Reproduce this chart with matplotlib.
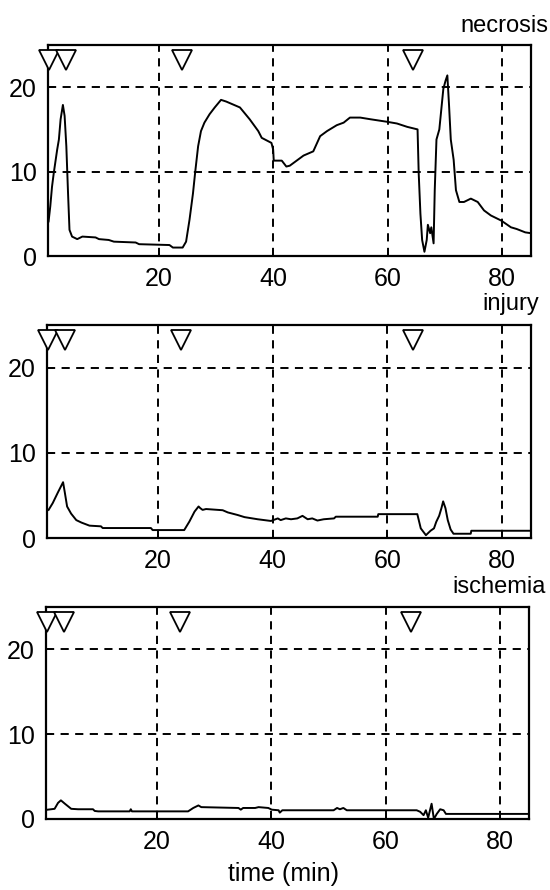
import matplotlib
matplotlib.use("Agg")
import matplotlib.pyplot as plt

plt.rcParams['font.family'] = ['Liberation Sans', 'DejaVu Sans']

# time (min) / value pairs
necrosis_t = [0.8, 1.1, 1.4, 1.7, 2.3, 2.6, 2.9, 3.3, 3.6, 3.9, 4.2, 4.45, 4.9, 5.8, 6.7,
              9.0, 9.6, 11.3, 12.2, 16.0, 16.6, 21.9, 22.5, 24.2, 24.8, 25.4, 26.0, 26.4,
              26.9, 27.4, 28.0, 28.9, 29.8, 30.9, 31.8, 34.2, 35.9, 37.4, 38.0, 39.7, 40.0,
              40.1, 41.5, 42.3, 42.9, 44.1, 45.3, 47.0, 48.2, 49.4, 51.1, 52.3, 53.4, 55.2,
              57.0, 59.9, 61.6, 63.4, 65.2, 65.4, 65.7, 66.0, 66.4, 66.8, 67.0, 67.4, 67.6,
              68.0, 68.2, 68.5, 69.0, 69.35, 69.7, 70.1, 70.4, 70.7, 71.0, 71.5, 71.9, 72.5,
              73.3, 74.5, 75.7, 76.8, 78.0, 79.8, 81.5, 82.5, 84.0, 85.0]
necrosis_v = [4.1, 5.9, 8.2, 9.8, 12.6, 13.8, 16.2, 17.9, 16.6, 13.0, 7.4, 3.1, 2.3, 2.0, 2.3,
              2.2, 2.0, 1.9, 1.7, 1.6, 1.4, 1.3, 1.0, 1.0, 1.7, 4.3, 7.4, 10.0,
              13.0, 14.8, 15.8, 16.8, 17.6, 18.5, 18.3, 17.6, 16.2, 14.8, 14.0, 13.4, 12.6,
              11.3, 11.3, 10.6, 10.7, 11.3, 11.9, 12.4, 14.2, 14.8, 15.5, 15.8, 16.4, 16.4,
              16.2, 15.9, 15.7, 15.3, 15.0, 9.8, 5.0, 1.9, 0.5, 1.9, 3.7, 2.7, 3.4,
              1.5, 7.8, 13.8, 15.0, 17.4, 19.8, 20.8, 21.4, 17.8, 13.8, 11.4, 7.8, 6.4,
              6.4, 6.8, 6.4, 5.4, 4.8, 4.2, 3.4, 3.2, 2.8, 2.7]

injury_t = [0.98, 1.7, 2.6, 3.2, 3.5, 3.8, 4.2, 4.9, 5.8, 6.7, 8.1, 10.1, 10.4, 18.8, 19.1,
            24.6, 25.5, 26.4, 27.1, 27.4, 27.8, 28.4, 31.3, 32.2, 33.9, 35.1, 37.4, 39.7,
            40.9, 41.4, 42.3, 43.2, 44.3, 45.2, 46.1, 46.9, 47.8, 48.9, 50.7, 51.0, 58.3,
            58.4, 65.2, 65.8, 66.7, 67.5, 68.1, 68.5, 69.0, 69.4, 69.7, 70.1, 70.5, 71.0,
            71.5, 74.5, 74.6, 81.4, 85.0]
injury_v = [3.3, 4.1, 5.35, 6.15, 6.55, 5.35, 3.7, 2.86, 2.1, 1.81, 1.45, 1.37, 1.17, 1.17, 0.93,
            0.93, 1.93, 3.1, 3.7, 3.5, 3.3, 3.4, 3.26, 3.0, 2.7, 2.45, 2.2, 2.0,
            2.3, 2.1, 2.3, 2.2, 2.3, 2.6, 2.2, 2.3, 2.05, 2.2, 2.3, 2.5, 2.5,
            2.8, 2.8, 1.13, 0.33, 0.85, 1.13, 1.9, 2.6, 3.5, 4.3, 3.5, 2.1, 1.0,
            0.5, 0.5, 0.85, 0.85, 0.85]

ischemia_t = [1.0, 2.2, 2.8, 3.3, 4.0, 5.1, 6.3, 8.9, 9.2, 9.8, 15.3, 15.5, 15.7, 25.5, 26.4,
              27.3, 27.8, 34.3, 34.7, 35.1, 37.2, 37.8, 39.5, 40.1, 41.3, 41.5, 41.95, 50.9,
              51.5, 52.0, 52.6, 53.2, 65.4, 66.0, 66.6, 67.0, 67.4, 68.0, 68.4, 68.9, 69.5,
              70.1, 70.5, 71.0, 82.0, 85.0]
ischemia_v = [1.1, 1.2, 1.9, 2.2, 1.8, 1.2, 1.15, 1.15, 0.95, 0.9, 0.9, 1.15, 0.9, 0.9, 1.3,
              1.6, 1.4, 1.3, 1.1, 1.3, 1.3, 1.4, 1.3, 1.1, 1.03, 0.75, 1.03, 1.03,
              1.3, 1.15, 1.3, 1.03, 1.03, 0.85, 0.45, 1.03, 0.15, 1.8, 0.0, 0.6, 1.15,
              1.03, 0.6, 0.6, 0.6, 0.6]

event_t = [0.9, 3.8, 24.1, 64.4]          # triangle markers at the top
titles = ["necrosis", "injury", "ischemia"]
x_ticks = [20, 40, 60, 80]
y_ticks = [0, 10, 20]

W, H = 550, 890
fig = plt.figure(figsize=(W / 100, H / 100), dpi=100)

# axes boxes in pixels: (left, top, right, bottom)
boxes = [(48, 45, 531, 256), (47, 325, 531, 538), (46, 607, 529, 819)]
title_pos = [(548, 32), (539, 310), (546, 593)]
series = [(necrosis_t, necrosis_v), (injury_t, injury_v), (ischemia_t, ischemia_v)]

for i in range(3):
    l, t, r, b = boxes[i]
    ax = fig.add_axes([l / W, 1 - b / H, (r - l) / W, (b - t) / H])
    ax.plot(series[i][0], series[i][1], color='black', lw=1.4)
    ax.plot(event_t, [23.2] * len(event_t), 'v', ms=14, mfc='white', mec='black',
            mew=1.3, clip_on=False, zorder=5)
    ax.set_xlim(0.7, 85)
    ax.set_ylim(0, 25)
    ax.set_xticks(x_ticks)
    ax.set_yticks(y_ticks)
    ax.grid(True, color='black', lw=1.4, linestyle=(0, (4.2, 3.3)))
    ax.tick_params(direction='in', length=4, width=1.2, labelsize=18, colors='black')
    ax.tick_params(axis='x', pad=8)
    ax.tick_params(axis='y', pad=8)
    for s in ax.spines.values():
        s.set_linewidth(1.6)
    tx, ty = title_pos[i]
    fig.text(tx / W, 1 - ty / H, titles[i], ha='right', va='baseline', fontsize=17)

fig.text(284 / W, 4 / H, "time (min)", ha='center', va='bottom', fontsize=18)

fig.savefig("out.png", dpi=100)
